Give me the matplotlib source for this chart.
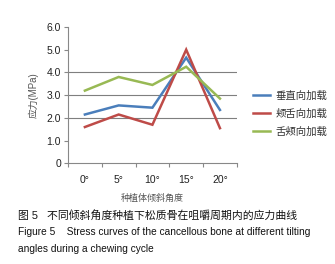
import matplotlib
matplotlib.use('Agg')
import matplotlib.pyplot as plt
import numpy as np

# 数据
angles = ['0°', '5°', '10°', '15°', '20°']
series_names = ['垂直向加载', '颊舌向加载', '舌颊向加载']
vertical = [2.15, 2.55, 2.45, 4.65, 2.35]
buccal_lingual = [1.6, 2.15, 1.7, 5.0, 1.55]
lingual_buccal = [3.2, 3.8, 3.45, 4.25, 2.85]
colors = ['#4a7ebb', '#be4b48', '#98b954']

y_ticks = [0, 1, 2, 3, 4, 5, 6]
y_ticklabels = ['0', '1.0', '2.0', '3.0', '4.0', '5.0', '6.0']

plt.rcParams['font.family'] = ['Liberation Sans', 'Noto Sans CJK SC', 'DejaVu Sans']

fig = plt.figure(figsize=(3.35, 2.64), dpi=100)
ax = fig.add_axes([0.203, 0.381, 0.504, 0.517])

x = np.arange(len(angles))
for vals, name, c in zip([vertical, buccal_lingual, lingual_buccal], series_names, colors):
    ax.plot(x, vals, color=c, lw=1.8, label=name, solid_joinstyle='miter')

# 网格线只在 2, 3, 4
for g in [2, 3, 4]:
    ax.axhline(g, color='#7f7f7f', lw=0.8, zorder=0)

ax.set_xlim(-0.5, 4.5)
ax.set_ylim(0, 6)
ax.set_yticks(y_ticks)
ax.set_yticklabels(y_ticklabels, fontsize=7.5, color='#222222')
ax.set_xticks(x)
ax.set_xticklabels(angles, fontsize=7.5, color='#222222')
ax.tick_params(axis='x', which='major', length=0, pad=8)
ax.set_xticks(np.arange(-0.5, 5, 1), minor=True)
ax.tick_params(axis='x', which='minor', length=3, color='#888888', width=0.8)
ax.tick_params(axis='y', length=3, color='#888888', width=0.8, pad=2)

for s in ['top', 'right']:
    ax.spines[s].set_visible(False)
for s in ['left', 'bottom']:
    ax.spines[s].set_color('#888888')
    ax.spines[s].set_linewidth(0.8)

ax.set_ylabel('应力(MPa)', fontsize=7, color='#555555', labelpad=6)
ax.set_xlabel('种植体倾斜角度', fontsize=6.5, color='#555555', labelpad=7)

ax.legend(loc='center left', bbox_to_anchor=(1.04, 0.365), frameon=False,
          fontsize=7.5, handlelength=1.6, handletextpad=0.6, labelspacing=0.75,
          labelcolor='#333333')

# 图题
fig.text(0.054, 1 - 215 / 264, '图 5   不同倾斜角度种植下松质骨在咀嚼周期内的应力曲线',
         fontsize=7.8, va='center', ha='left', color='#111111')
fig.text(0.054, 1 - 232 / 264, 'Figure 5    Stress curves of the cancellous bone at different tilting',
         fontsize=7.3, va='center', ha='left', color='#111111')
fig.text(0.054, 1 - 249 / 264, 'angles during a chewing cycle',
         fontsize=7.3, va='center', ha='left', color='#111111')

plt.savefig('out.png', dpi=100)
